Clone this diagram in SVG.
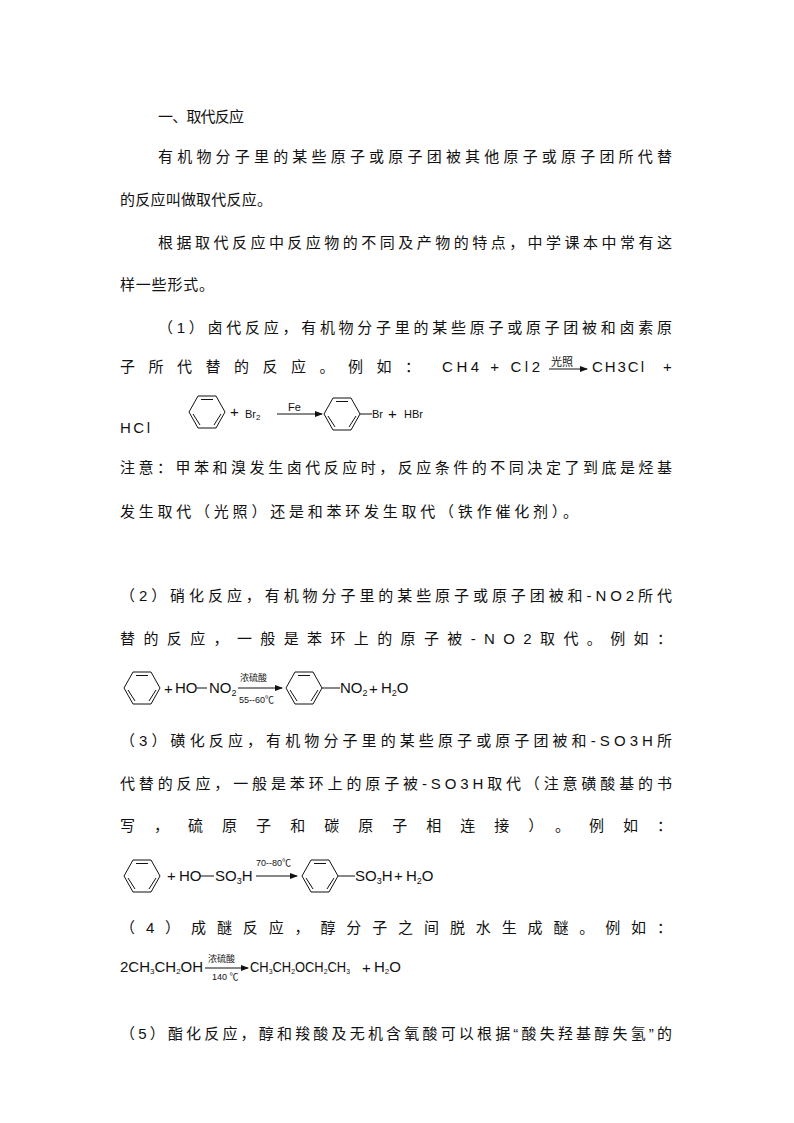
<svg xmlns="http://www.w3.org/2000/svg" xmlns:xlink="http://www.w3.org/1999/xlink" width="794" height="1123" viewBox="0 0 794 1123">
<style>
text{font-family:"Liberation Sans","Noto Sans CJK SC",sans-serif;font-size:15px;fill:#111}
.s{font-size:11px}.xs{font-size:9px}
.ln{stroke:#111;stroke-width:1;fill:none}
</style>
<defs>
<g id="bz"><path class="ln" d="M-18,0 L-9,-16 L9,-16 L18,0 L9,16 L-9,16 Z M-6,-12.5 L6,-12.5 M14,2 L7,13 M-14,2 L-7,13"/></g>
<marker id="ah" markerWidth="8" markerHeight="6" refX="7" refY="3" orient="auto"><path d="M0,0 L8,3 L0,6 Z" fill="#111"/></marker>
</defs>
<rect width="794" height="1123" fill="#fff"/>
<g id="text">
<text x="158" y="122" textLength="86" lengthAdjust="spacing">一、取代反应</text>
<text x="158" y="162" textLength="514" lengthAdjust="spacing">有机物分子里的某些原子或原子团被其他原子或原子团所代替</text>
<text x="120" y="205" textLength="152" lengthAdjust="spacing">的反应叫做取代反应。</text>
<text x="158" y="248" textLength="514" lengthAdjust="spacing">根据取代反应中反应物的不同及产物的特点，中学课本中常有这</text>
<text x="120" y="290" textLength="94" lengthAdjust="spacing">样一些形式。</text>
<text x="158" y="333" textLength="514" lengthAdjust="spacing">（1）卤代反应，有机物分子里的某些原子或原子团被和卤素原</text>
<text x="120" y="372" textLength="300" lengthAdjust="spacing">子所代替的反应。例如：</text>
<text x="442" y="372" textLength="98" lengthAdjust="spacing">CH4 + Cl2</text>
<text x="551" y="366" class="s">光照</text>
<line class="ln" x1="549" y1="369" x2="587" y2="369" marker-end="url(#ah)"/>
<text x="592" y="372" textLength="52" lengthAdjust="spacing">CH3Cl</text>
<text x="663" y="372">+</text>
<text x="120" y="433" textLength="30" lengthAdjust="spacing">HCl</text>
<text x="120" y="473" textLength="552" lengthAdjust="spacing">注意：甲苯和溴发生卤代反应时，反应条件的不同决定了到底是烃基</text>
<text x="120" y="517" textLength="458" lengthAdjust="spacing">发生取代（光照）还是和苯环发生取代（铁作催化剂）。</text>
<text x="120" y="601" textLength="552" lengthAdjust="spacing">（2）硝化反应，有机物分子里的某些原子或原子团被和-NO2所代</text>
<text x="120" y="644" textLength="552" lengthAdjust="spacing">替的反应，一般是苯环上的原子被-NO2取代。例如：</text>
<text x="120" y="746" textLength="552" lengthAdjust="spacing">（3）磺化反应，有机物分子里的某些原子或原子团被和-SO3H所</text>
<text x="120" y="789" textLength="552" lengthAdjust="spacing">代替的反应，一般是苯环上的原子被-SO3H取代（注意磺酸基的书</text>
<text x="120" y="831" textLength="552" lengthAdjust="spacing">写，硫原子和碳原子相连接）。例如：</text>
<text x="120" y="933" textLength="552" lengthAdjust="spacing">（4）成醚反应，醇分子之间脱水生成醚。例如：</text>
<text x="120" y="1039" textLength="552" lengthAdjust="spacing">（5）酯化反应，醇和羧酸及无机含氧酸可以根据“酸失羟基醇失氢”的</text>
</g>
<g id="eq1">
<use xlink:href="#bz" x="207" y="412"/>
<text x="230" y="417" font-size="14">+</text><text x="245" y="418" class="s">Br<tspan font-size="8" dy="2">2</tspan></text>
<text x="288" y="411" class="s">Fe</text>
<line class="ln" x1="277" y1="414" x2="322" y2="414" marker-end="url(#ah)"/>
<use xlink:href="#bz" x="342" y="414"/>
<line class="ln" x1="360" y1="414" x2="372" y2="414"/>
<text x="372" y="418" class="s">Br</text><text x="388" y="419" font-size="14">+</text><text x="404" y="418" class="s">HBr</text>
</g>
<g id="eq2">
<use xlink:href="#bz" x="142" y="688"/>
<text x="164" y="694" font-size="15">+</text>
<text x="175" y="693" font-size="13">HO</text>
<line class="ln" x1="197" y1="688" x2="207" y2="688"/>
<text x="209" y="693" font-size="13">NO<tspan font-size="9" dy="3">2</tspan></text>
<text x="240" y="681" class="xs">浓硫酸</text>
<line class="ln" x1="238" y1="688" x2="282" y2="688" marker-end="url(#ah)"/>
<text x="239" y="703" class="xs">55--60℃</text>
<use xlink:href="#bz" x="304" y="688"/>
<line class="ln" x1="322" y1="688" x2="340" y2="688"/>
<text x="340" y="693" font-size="13">NO<tspan font-size="9" dy="3">2</tspan></text>
<text x="369" y="694">+</text>
<text x="381" y="693" font-size="13">H<tspan font-size="9" dy="3">2</tspan><tspan dy="-3">O</tspan></text>
</g>
<g id="eq3">
<use xlink:href="#bz" x="142" y="876"/>
<text x="167" y="881">+</text>
<text x="179" y="881" font-size="13">HO</text>
<line class="ln" x1="200" y1="876" x2="214" y2="876"/>
<text x="215" y="881" font-size="13">SO<tspan font-size="9" dy="3">3</tspan><tspan dy="-3">H</tspan></text>
<text x="256" y="866" class="xs">70--80℃</text>
<line class="ln" x1="256" y1="876" x2="297" y2="876" marker-end="url(#ah)"/>
<use xlink:href="#bz" x="320" y="876"/>
<line class="ln" x1="338" y1="876" x2="355" y2="876"/>
<text x="355" y="881" font-size="13">SO<tspan font-size="9" dy="3">3</tspan><tspan dy="-3">H</tspan></text>
<text x="394" y="881">+</text>
<text x="406" y="881" font-size="13">H<tspan font-size="9" dy="3">2</tspan><tspan dy="-3">O</tspan></text>
</g>
<g id="eq4">
<text x="120" y="972" font-size="11">2CH<tspan font-size="8" dy="2">3</tspan><tspan dy="-2">CH</tspan><tspan font-size="8" dy="2">2</tspan><tspan dy="-2">OH</tspan></text>
<text x="208" y="962" class="xs">浓硫酸</text>
<line class="ln" x1="205" y1="968" x2="248" y2="968" marker-end="url(#ah)"/>
<text x="212" y="980" class="xs">140 ℃</text>
<text x="250" y="972" font-size="11" textLength="100" lengthAdjust="spacingAndGlyphs">CH<tspan font-size="8" dy="2">3</tspan><tspan dy="-2">CH</tspan><tspan font-size="8" dy="2">2</tspan><tspan dy="-2">OCH</tspan><tspan font-size="8" dy="2">2</tspan><tspan dy="-2">CH</tspan><tspan font-size="8" dy="2">3</tspan></text>
<text x="362" y="973">+</text>
<text x="374" y="972" font-size="12">H<tspan font-size="8" dy="2">2</tspan><tspan dy="-2">O</tspan></text>
</g>
</svg>
